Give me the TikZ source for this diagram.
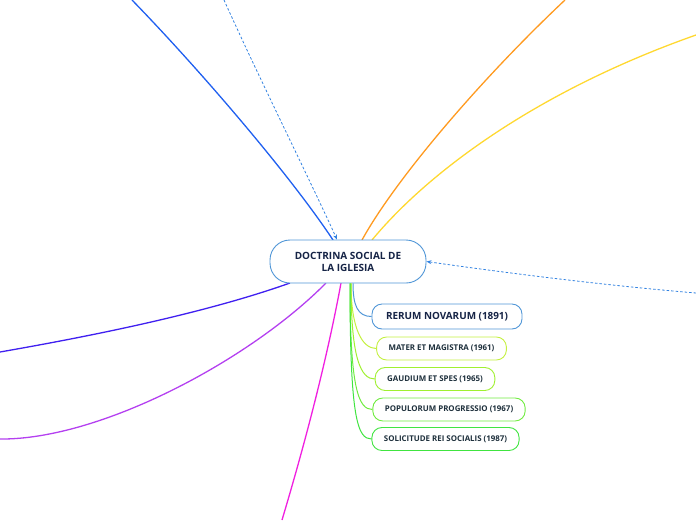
\documentclass[tikz,border=0pt]{standalone}
\usepackage{fontspec}
\setmainfont{Open Sans}
\usepackage{tikz}
\usetikzlibrary{positioning, arrows.meta, calc}
\definecolor{rim}{RGB}{80,150,215}
\definecolor{ink}{RGB}{22,36,70}
\definecolor{inkchild}{RGB}{30,48,60}
\definecolor{dashblue}{RGB}{50,130,225}
\definecolor{branchblue}{RGB}{32,96,240}
\definecolor{orangeb}{RGB}{255,154,32}
\definecolor{yellowb}{RGB}{255,216,48}
\definecolor{indigob}{RGB}{64,32,240}
\definecolor{purpleb}{RGB}{180,64,240}
\definecolor{magentab}{RGB}{240,32,224}
\definecolor{greenA}{RGB}{196,240,64}
\definecolor{greenB}{RGB}{160,240,48}
\definecolor{greenC}{RGB}{112,236,64}
\definecolor{greenD}{RGB}{64,228,64}

\begin{document}
\begin{tikzpicture}[
  x=1pt, y=-1pt,
  central/.style={draw=rim, line width=0.9pt, rounded corners=20pt, fill=white,
                  font=\bfseries\fontsize{10}{12}\selectfont, text=ink, align=center,
                  minimum width=156pt, minimum height=43pt},
  encyc/.style={draw=#1, line width=0.9pt, rounded corners=10pt, fill=white,
                font=\bfseries\fontsize{7.9}{9}\selectfont, text=inkchild,
                inner xsep=12pt, minimum height=23pt},
  branch/.style={line width=1.3pt},
  twig/.style={line width=1pt},
  link/.style={dashed, dash pattern=on 2.5pt off 2pt, draw=dashblue, line width=0.8pt,
               -{Stealth[length=5pt, width=4pt, open]}},
]
  \useasboundingbox (0,0) rectangle (696,520);

  % edge coordinates for the branches leaving the page
  \coordinate (topleft)  at (132,0);
  \coordinate (topdash)  at (224,0);
  \coordinate (topright) at (565,0);
  \coordinate (rightup)  at (696,35);
  \coordinate (rightdash) at (696,293);
  \coordinate (leftup)   at (0,352);
  \coordinate (leftdown) at (0,439);
  \coordinate (bottom)   at (282,520);

  % long branches
  \draw[branch, branchblue] (333,240) .. controls (290,175) and (200,70) .. (topleft);
  \draw[branch, orangeb] (362,240) .. controls (395,180) and (480,80) .. (topright);
  \draw[branch, yellowb] (372,240) .. controls (430,170) and (540,90) .. (rightup);
  \draw[branch, indigob] (290,283) .. controls (200,315) and (80,338) .. (leftup);
  \draw[branch, purpleb] (326,283) .. controls (250,360) and (100,440) .. (leftdown);
  \draw[branch, magentab] (341,283) .. controls (325,370) and (300,460) .. (bottom);

  \node[central] (doctrina) at (348,261.5) {DOCTRINA SOCIAL DE\\LA IGLESIA};

  \node[encyc=rim, font=\bfseries\fontsize{9.9}{11}\selectfont, text=ink, inner xsep=14pt,
        minimum height=25pt] (rerum) at (447,316.5) {RERUM NOVARUM (1891)};
  \node[encyc=greenA] (mater) at (441.5,348.5) {MATER ET MAGISTRA (1961)};
  \node[encyc=greenB] (gaudium) at (435,379) {GAUDIUM ET SPES (1965)};
  \node[encyc=greenC] (populorum) at (449,409.5) {POPULORUM PROGRESSIO (1967)};
  \node[encyc=greenD] (solicitude) at (445.5,439) {SOLICITUDE REI SOCIALIS (1987)};

  % children
  \draw[twig, rim] ([xshift=5pt]doctrina.south) .. controls +(0,22) and +(-14,0) .. (rerum.west);
  \draw[twig, greenA] ([xshift=3pt]doctrina.south) .. controls +(0,45) and +(-14,0) .. (mater.west);
  \draw[twig, greenB] ([xshift=3pt]doctrina.south) .. controls +(0,75) and +(-14,0) .. (gaudium.west);
  \draw[twig, greenC] ([xshift=2pt]doctrina.south) .. controls +(0,105) and +(-14,0) .. (populorum.west);
  \draw[twig, greenD] ([xshift=2pt]doctrina.south) .. controls +(0,135) and +(-14,0) .. (solicitude.west);

  % relation links
  \draw[link] (topdash) .. controls (260,80) and (310,180) .. ([xshift=-11pt]doctrina.north);
  \draw[link] (rightdash) .. controls (600,285) and (500,272) .. (doctrina.east);
\end{tikzpicture}
\end{document}
